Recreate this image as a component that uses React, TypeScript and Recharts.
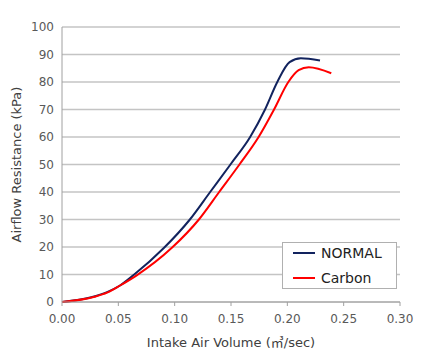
import React from 'react';
import { LineChart, Line, XAxis, YAxis, CartesianGrid } from 'recharts';

const normalX = [0, 0.026, 0.04, 0.0515, 0.0633, 0.0906, 0.1135, 0.1315, 0.1495, 0.167, 0.1802, 0.1911, 0.202, 0.212, 0.229];
const normalY = [0, 1.7, 3.6, 6.0, 9.7, 19.7, 30, 40, 50, 60, 70, 80, 87.2, 88.6, 87.8];
const carbonX = [0, 0.029, 0.04, 0.0515, 0.0663, 0.0975, 0.1215, 0.1395, 0.1575, 0.1745, 0.1882, 0.2009, 0.21, 0.219, 0.239];
const carbonY = [0, 1.9, 3.4, 6.0, 9.7, 19.7, 30, 40, 50, 60, 70, 80, 84.3, 85.4, 83.2];

const xTicks = [0, 0.05, 0.1, 0.15, 0.2, 0.25, 0.3];
const yTicks = [0, 10, 20, 30, 40, 50, 60, 70, 80, 90, 100];

const normalData = normalX.map((x, i) => ({ x, y: normalY[i] }));
const carbonData = carbonX.map((x, i) => ({ x, y: carbonY[i] }));

const NAVY = '#12235e';
const RED = '#ff0000';
const FONT = '"DejaVu Sans", Verdana, sans-serif';

const legendItems = [
  { name: 'NORMAL', color: NAVY },
  { name: 'Carbon', color: RED },
];

const LegendBox = () => (
  <div
    style={{
      position: 'absolute',
      left: 282,
      top: 242,
      width: 115,
      height: 47,
      border: '1px solid #b0b0b0',
      background: '#fff',
      fontFamily: FONT,
      fontSize: 14,
      color: '#222',
      boxSizing: 'border-box',
    }}
  >
    {legendItems.map((e, i) => (
      <div
        key={e.name}
        style={{ position: 'absolute', left: 10, top: 0 + i * 24.6, height: 20, display: 'flex', alignItems: 'center' }}
      >
        <span style={{ display: 'inline-block', width: 22, height: 2, background: e.color, marginRight: 6 }} />
        <span>{e.name}</span>
      </div>
    ))}
  </div>
);

const XLabel = (props: any) => {
  const vb = props.viewBox || {};
  const cx = vb.x + vb.width / 2;
  return (
    <text x={cx} y={347} textAnchor="middle" fill="#404040" fontSize={13} fontFamily={FONT}>
      Intake Air Volume (<tspan fontFamily='"Noto Sans CJK JP"'>㎥</tspan>/sec)
    </text>
  );
};

const App = () => {
  return (
    <div style={{ position: 'absolute', left: 0, top: 0, width: 440, height: 357, background: '#fff' }}>
      <LineChart width={440} height={357} margin={{ top: 27, right: 40, bottom: 0, left: 0 }}>
        <CartesianGrid vertical={false} stroke="#c4c4c4" strokeWidth={1.5} />
        <XAxis
          type="number"
          dataKey="x"
          domain={[0, 0.3]}
          ticks={xTicks}
          tickFormatter={(v: number) => v.toFixed(2)}
          stroke="#a0a0a0"
          tickSize={4}
          tickMargin={8}
          height={55}
          tick={{ fill: '#595959', fontSize: 12, fontFamily: FONT }}
          label={<XLabel />}
        />
        <YAxis
          type="number"
          dataKey="y"
          domain={[0, 100]}
          ticks={yTicks}
          width={62}
          stroke="#a0a0a0"
          tickLine={false}
          tick={{ fill: '#595959', fontSize: 12, fontFamily: FONT }}
          label={{ value: 'Airflow Resistance (kPa)', angle: -90, position: 'insideLeft', offset: 16, fill: '#404040', fontSize: 13, fontFamily: FONT, style: { textAnchor: 'middle' } }}
        />
        <Line data={normalData} dataKey="y" type="monotone" stroke={NAVY} strokeWidth={2} dot={false} isAnimationActive={false} />
        <Line data={carbonData} dataKey="y" type="monotone" stroke={RED} strokeWidth={2} dot={false} isAnimationActive={false} />
      </LineChart>
      <LegendBox />
    </div>
  );
};

export default App;
